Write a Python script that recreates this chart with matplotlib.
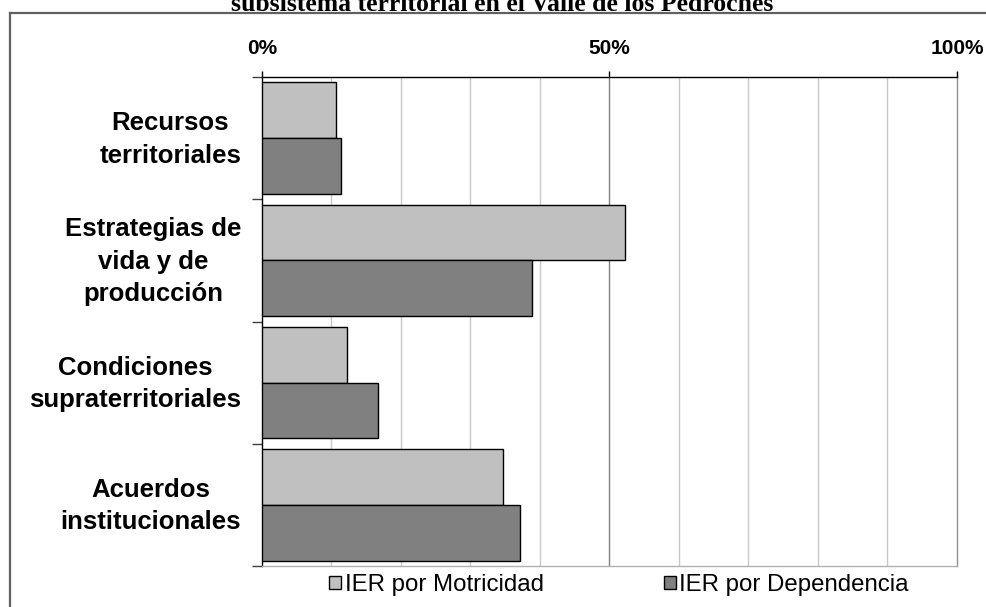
import numpy as np
import matplotlib.pyplot as plt
from matplotlib.patches import Patch
from matplotlib.lines import Line2D
from matplotlib.ticker import FixedLocator, PercentFormatter

# datos (porcentaje)
categorias = ['Recursos\nterritoriales',
              'Estrategias de\nvida y de\nproducción',
              'Condiciones\nsupraterritoriales',
              'Acuerdos\ninstitucionales']
motricidad = [10.6, 52.2, 12.2, 34.7]
dependencia = [11.4, 38.9, 16.7, 37.1]
series = ['IER por Motricidad', 'IER por Dependencia']

plt.rcParams['font.family'] = ['Liberation Sans', 'DejaVu Sans']

fig = plt.figure(figsize=(9.87, 6.07), dpi=100)
ax = fig.add_axes([0.2654, 0.0675, 0.7042, 0.8056])

y = np.arange(len(categorias))
h = 0.456
ax.barh(y - h / 2, motricidad, height=h, color='#c0c0c0', edgecolor='black', linewidth=1, zorder=3)
ax.barh(y + h / 2, dependencia, height=h, color='#808080', edgecolor='black', linewidth=1, zorder=3)

ax.set_xlim(0, 100)
ax.set_ylim(len(categorias) - 0.5, -0.5)

# rejilla
for v in range(10, 100, 10):
    ax.axvline(v, color='#808080' if v == 50 else '#c8c8c8', linewidth=1, zorder=1)

ax.xaxis.tick_top()
ax.xaxis.set_major_locator(FixedLocator([0, 50, 100]))
ax.xaxis.set_major_formatter(PercentFormatter(decimals=0))
ax.tick_params(axis='x', length=4, width=1, pad=10, labelsize=15)
for lab in ax.get_xticklabels():
    lab.set_fontweight('bold')

# ticks en los limites de categoria, etiquetas un poco por encima del centro
ax.yaxis.set_major_locator(FixedLocator(np.arange(-0.5, len(categorias), 1)))
ax.yaxis.set_major_formatter(plt.NullFormatter())
ax.yaxis.set_minor_locator(FixedLocator(y - 0.045))
ax.set_yticklabels(categorias, minor=True)
ax.tick_params(axis='y', which='major', length=7, width=1, color='#404040')
ax.tick_params(axis='y', which='minor', length=0, pad=15, labelsize=18.5)
for lab in ax.get_yticklabels(minor=True):
    lab.set_fontweight('bold')
    lab.set_multialignment('center')
    lab.set_linespacing(1.45)

ax.spines['left'].set_color('black')
ax.spines['top'].set_color('black')
ax.spines['right'].set_color('#909090')
ax.spines['bottom'].set_color('#b0b0b0')
for s in ax.spines.values():
    s.set_linewidth(1)

handles = [Patch(facecolor='#c0c0c0', edgecolor='black'),
           Patch(facecolor='#808080', edgecolor='black')]
fig.legend(handles, series, loc='center', bbox_to_anchor=(0.627, 0.036), ncol=2,
           frameon=False, fontsize=17.3, handlelength=0.5, handleheight=0.5,
           handletextpad=0.15, columnspacing=5.0)

# marco exterior y titulo recortado
fig.add_artist(Line2D([0.0101, 1.0], [0.9786, 0.9786], color='#606060', linewidth=1.6))
fig.add_artist(Line2D([0.0101, 0.0101], [0.0, 0.9786], color='#606060', linewidth=1.6))
fig.text(0.509, 0.9825, 'subsistema territorial en el Valle de los Pedroches',
         family='Liberation Serif', fontweight='bold', fontsize=18.5,
         ha='center', va='baseline')

fig.savefig('out.png', dpi=100)
